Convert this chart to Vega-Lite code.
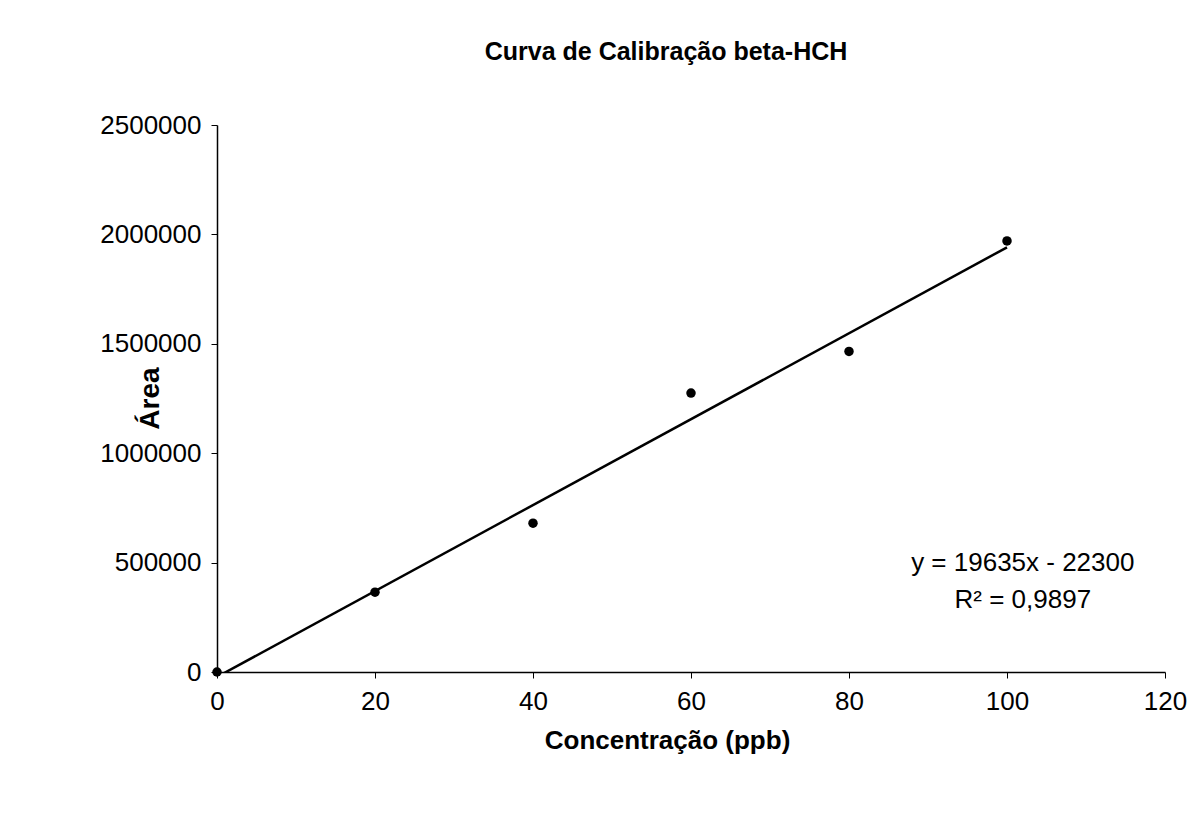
{
  "$schema": "https://vega.github.io/schema/vega-lite/v6.json",
  "autosize": {"type": "none"},
  "width": 948,
  "height": 547,
  "padding": {"left": 217, "top": 125, "right": 37, "bottom": 160},
  "background": "white",
  "config": {
    "font": "Liberation Sans",
    "view": {"stroke": null},
    "axis": {"grid": false, "domainColor": "black", "domainWidth": 1.5, "tickColor": "black", "tickWidth": 1, "tickSize": 6, "labelColor": "black", "labelFont": "Liberation Sans", "labelFontSize": 26, "labelFlush": false, "labelOverlap": false, "titleColor": "black", "titleFont": "Liberation Sans", "titleFontWeight": "bold"}
  },
  "title": {"text": "Curva de Calibração beta-HCH", "font": "Liberation Sans", "fontSize": 25, "fontWeight": "bold", "color": "black", "anchor": "middle", "dx": -25, "offset": 47},
  "data": {"values": [
    {"conc": 0, "area": 0},
    {"conc": 20, "area": 365000},
    {"conc": 40, "area": 680000},
    {"conc": 60, "area": 1275000},
    {"conc": 80, "area": 1465000},
    {"conc": 100, "area": 1970000}
  ]},
  "layer": [
    {
      "mark": {"type": "line", "color": "black", "strokeWidth": 2.5, "clip": true},
      "transform": [{"regression": "area", "on": "conc", "extent": [0, 100]}],
      "encoding": {
        "x": {"field": "conc", "type": "quantitative"},
        "y": {"field": "area", "type": "quantitative"}
      }
    },
    {
      "mark": {"type": "circle", "color": "black", "opacity": 1, "size": 90},
      "encoding": {
        "x": {"field": "conc", "type": "quantitative", "scale": {"domain": [0, 120], "nice": false},
          "axis": {"values": [0, 20, 40, 60, 80, 100, 120], "title": "Concentração (ppb)", "titleFontSize": 26, "labelPadding": 10, "titleX": 450, "titleY": 76, "titleAlign": "center", "titleBaseline": "alphabetic"}},
        "y": {"field": "area", "type": "quantitative", "scale": {"domain": [0, 2500000], "nice": false},
          "axis": {"values": [0, 500000, 1000000, 1500000, 2000000, 2500000], "format": "d", "title": "Área", "titleFontSize": 28, "labelPadding": 10, "titleX": -67, "titleY": 273, "titleAngle": -90, "titleAlign": "center", "titleBaseline": "middle"}}
      }
    },
    {
      "data": {"values": [{"label": "equation"}]},
      "mark": {"type": "text", "fontSize": 26, "color": "black", "align": "center", "baseline": "middle", "lineHeight": 37},
      "encoding": {
        "x": {"datum": 102},
        "y": {"datum": 500000},
        "text": {"value": ["y = 19635x - 22300", "R² = 0,9897"]}
      }
    }
  ]
}
